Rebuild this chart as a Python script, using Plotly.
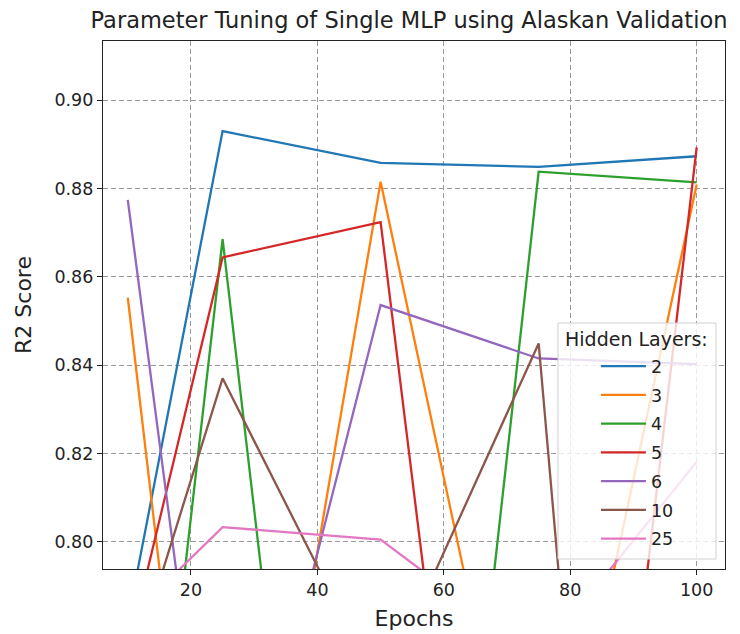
import plotly.graph_objects as go

# Epochs tested and R2 scores per hidden-layer count
epochs = [10, 25, 50, 75, 100]
hidden_layers = ["2", "3", "4", "5", "6", "10", "25"]

r2_h2 = [0.782, 0.8930, 0.8858, 0.8849, 0.8873]
r2_h3 = [0.8553, 0.672, 0.8815, 0.714, 0.8809]
r2_h4 = [0.680, 0.8685, 0.562, 0.8838, 0.8814]
r2_h5 = [0.775, 0.8644, 0.8724, 0.582, 0.8893]
r2_h6 = [0.8774, 0.7131, 0.8536, 0.8415, 0.8402]
r2_h10 = [0.768, 0.8370, 0.7660, 0.8449, 0.435]
r2_h25 = [0.7823, 0.8033, 0.8005, 0.7736, 0.8181]

series = [r2_h2, r2_h3, r2_h4, r2_h5, r2_h6, r2_h10, r2_h25]
colors = ["#1f77b4", "#ff7f0e", "#2ca02c", "#d62728", "#9467bd", "#8c564b", "#e377c2"]

y_ticks = [0.80, 0.82, 0.84, 0.86, 0.88, 0.90]
x_ticks = [20, 40, 60, 80, 100]

FONT = "DejaVu Sans"

fig = go.Figure()
for name, vals, col in zip(hidden_layers, series, colors):
    fig.add_trace(go.Scatter(
        x=epochs, y=vals, mode="lines", name=name,
        legendgroup=name,
        line=dict(color=col, width=2.3),
    ))

axis_common = dict(
    showline=True, linecolor="#222", linewidth=1.3, mirror=True,
    ticks="outside", ticklen=5, tickwidth=1.2, tickcolor="#222",
    showgrid=True, gridcolor="#9a9a9a", griddash="5px,3px", gridwidth=1,
    zeroline=False, automargin=False,
    tickfont=dict(family=FONT, size=17.5, color="#222"),
)

# Legend frame (semi-transparent, lower right) with a centered heading
fig.add_shape(
    type="rect", xref="paper", yref="paper",
    x0=0.7315, x1=0.9855, y0=0.0189, y1=0.4659,
    fillcolor="rgba(255,255,255,0.8)", line=dict(color="#d0d0d0", width=1),
    layer="above",
)
fig.add_annotation(
    text="Hidden Layers:", xref="paper", yref="paper",
    x=0.8585, y=0.435, xanchor="center", yanchor="middle",
    showarrow=False, font=dict(family=FONT, size=19, color="#222"),
)

fig.update_layout(
    width=740, height=634,
    margin=dict(l=103, r=15, t=41, b=65),
    paper_bgcolor="white", plot_bgcolor="white",
    font=dict(family=FONT, color="#222"),
    title=dict(
        text="Parameter Tuning of Single MLP using Alaskan Validation",
        font=dict(family=FONT, size=22.5, color="#222"),
        x=0.5527, xanchor="center", y=0.9677, yanchor="middle",
    ),
    xaxis=dict(
        range=[6.08, 104.48], tickvals=x_ticks,
        title=dict(text="Epochs", font=dict(family=FONT, size=22), standoff=11),
        **axis_common,
    ),
    yaxis=dict(
        range=[0.79382, 0.9134], tickvals=y_ticks, tickformat=".2f",
        title=dict(text="R2 Score", font=dict(family=FONT, size=22), standoff=16),
        **axis_common,
    ),
    legend=dict(
        font=dict(family=FONT, size=17.5, color="#222"),
        x=0.770, xanchor="left", y=0.0222, yanchor="bottom",
        bgcolor="rgba(0,0,0,0)", borderwidth=0,
        tracegroupgap=3, itemwidth=45, indentation=14,
    ),
    showlegend=True,
)

fig.write_html("out.html")
